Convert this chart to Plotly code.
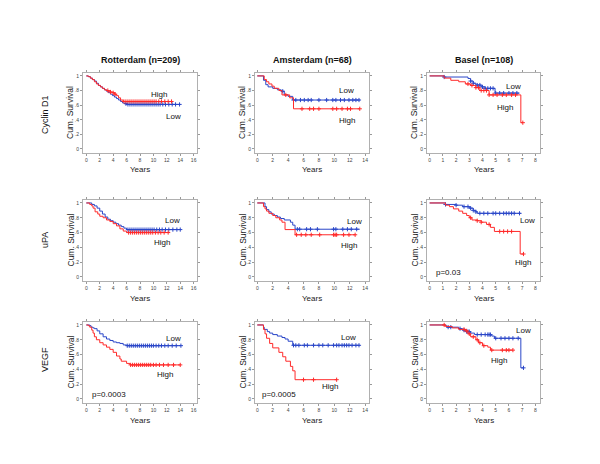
import plotly.graph_objects as go

# ---------------- data ----------------
RED = "#ff2a2a"
BLUE = "#2a46c8"

# Row labels / column titles
col_titles = ["Rotterdam (n=209)", "Amsterdam (n=68)", "Basel (n=108)"]
row_labels = ["Cyclin D1", "uPA", "VEGF"]
y_tickvals = [0, 0.2, 0.4, 0.6, 0.8, 1.0]
y_ticktext = ["0", ".2", ".4", ".6", ".8", "1"]
x_ticks_rot = [0, 2, 4, 6, 8, 10, 12, 14, 16]
x_ticks_ams = [0, 2, 4, 6, 8, 10, 12, 14]
x_ticks_bas = [0, 1, 2, 3, 4, 5, 6, 7, 8]

# --- Cyclin D1, Rotterdam
rot_cyc_low_t = [0, .3, .6, .9, 1.2, 1.5, 1.8, 2.1, 2.4, 2.7, 3.0, 3.3, 3.6, 3.9, 4.2, 4.5, 4.8, 5.1, 5.4, 5.7, 6.0, 14.0]
rot_cyc_low_s = [1, .99, .97, .95, .93, .90, .87, .85, .83, .81, .79, .77, .75, .73, .71, .69, .67, .65, .63, .62, .61, .61]
rot_cyc_low_c = [5.9, 6.2, 6.5, 6.8, 7.1, 7.4, 7.7, 8.0, 8.3, 8.6, 8.9, 9.2, 9.5, 9.8, 10.1, 10.4, 10.7, 11.0, 11.4, 11.8, 12.3, 12.8, 13.3, 13.9]
rot_cyc_high_t = [0, .3, .6, .9, 1.2, 1.5, 1.8, 2.1, 2.4, 2.7, 3.0, 3.3, 3.6, 3.9, 4.2, 4.5, 4.8, 5.1, 5.5, 12.8]
rot_cyc_high_s = [1, .99, .97, .95, .92, .89, .87, .85, .83, .81, .80, .79, .78, .77, .75, .73, .70, .67, .65, .65]
rot_cyc_high_c = [3.2, 3.6, 4.0, 4.3, 5.6, 5.9, 6.2, 6.5, 6.8, 7.1, 7.4, 7.7, 8.0, 8.3, 8.6, 8.9, 9.2, 9.5, 9.8, 10.1, 10.4, 10.8, 11.2, 11.7, 12.2, 12.7]

# --- Cyclin D1, Amsterdam
ams_cyc_low_t = [0, .8, 1.1, 1.4, 2.0, 2.6, 3.1, 3.5, 4.0, 4.6, 13.3]
ams_cyc_low_s = [1, .94, .88, .85, .83, .81, .79, .74, .72, .67, .67]
ams_cyc_low_c = [3.3, 4.7, 5.0, 5.6, 6.1, 6.6, 7.0, 8.0, 9.0, 9.8, 10.2, 10.8, 11.3, 11.9, 12.4, 12.8, 13.2]
ams_cyc_high_t = [0, .9, 1.2, 1.5, 1.9, 2.2, 2.8, 3.2, 4.2, 4.7, 13.3]
ams_cyc_high_s = [1, .95, .92, .89, .86, .83, .80, .74, .70, .55, .55]
ams_cyc_high_c = [3.7, 5.8, 6.8, 7.3, 8.0, 9.8, 10.3, 11.0, 11.7, 12.1, 13.3]

# --- Cyclin D1, Basel
bas_cyc_low_t = [0, 1.1, 2.9, 3.1, 3.3, 3.5, 3.9, 4.2, 4.95, 6.8]
bas_cyc_low_s = [1, .985, .965, .93, .90, .875, .85, .83, .765, .765]
bas_cyc_low_c = [1.1, 3.1, 3.3, 3.6, 3.8, 4.0, 4.2, 4.4, 4.6, 4.8, 5.0, 5.3, 5.6, 6.0, 6.3, 6.6]
bas_cyc_high_t = [0, 1.1, 1.6, 2.2, 2.7, 3.1, 3.5, 3.8, 4.5, 6.9, 7.05]
bas_cyc_high_s = [1, .97, .94, .92, .89, .87, .84, .80, .74, .36, .36]
bas_cyc_high_c = [2.9, 3.2, 3.5, 3.7, 3.9, 4.1, 4.3, 4.5, 4.8, 5.1, 5.5, 5.8, 6.2, 6.5, 7.05]

# --- uPA, Rotterdam
rot_upa_low_t = [0, .8, 1.2, 1.6, 2.0, 2.4, 2.8, 3.2, 3.6, 4.0, 4.4, 4.8, 5.2, 5.6, 6.0, 14.0]
rot_upa_low_s = [1, .98, .96, .93, .89, .85, .81, .78, .76, .74, .72, .70, .68, .66, .64, .64]
rot_upa_low_c = [6.2, 6.5, 6.8, 7.1, 7.4, 7.7, 8.0, 8.3, 8.6, 8.9, 9.2, 9.5, 9.8, 10.1, 10.5, 10.9, 11.3, 11.8, 12.3, 12.9, 13.5, 14.0]
rot_upa_high_t = [0, .5, .8, 1.0, 1.3, 1.7, 2.0, 2.5, 3.0, 3.5, 4.0, 4.5, 5.0, 5.5, 6.0, 12.2]
rot_upa_high_s = [1, .98, .96, .93, .88, .85, .82, .80, .77, .75, .72, .69, .65, .62, .60, .60]
rot_upa_high_c = [6.3, 6.6, 6.9, 7.2, 7.5, 7.8, 8.1, 8.4, 8.7, 9.0, 9.3, 9.6, 9.9, 10.3, 10.7, 11.1, 11.6, 12.2]

# --- uPA, Amsterdam
ams_upa_low_t = [0, 1.0, 1.2, 1.5, 1.8, 2.2, 2.6, 3.0, 3.5, 4.3, 4.6, 4.9, 13.3]
ams_upa_low_s = [1, .95, .91, .88, .85, .83, .81, .79, .77, .74, .70, .645, .645]
ams_upa_low_c = [5.2, 5.5, 6.4, 6.9, 7.8, 9.9, 10.2, 11.1, 11.7, 12.2, 12.9]
ams_upa_high_t = [0, .8, 1.0, 1.2, 1.5, 2.0, 2.4, 2.9, 3.2, 3.6, 4.9, 12.7]
ams_upa_high_s = [1, .95, .92, .89, .86, .83, .80, .77, .74, .64, .57, .57]
ams_upa_high_c = [5.1, 5.7, 6.3, 7.0, 8.1, 9.9, 10.1, 10.3, 11.2, 11.9, 12.7]

# --- uPA, Basel
bas_upa_low_t = [0, 1.2, 2.0, 2.5, 3.0, 3.3, 3.5, 3.6, 6.9]
bas_upa_low_s = [1, .98, .97, .95, .93, .90, .88, .86, .86]
bas_upa_low_c = [1.2, 2.0, 2.6, 2.9, 3.1, 3.3, 3.5, 3.8, 4.1, 4.4, 4.8, 5.0, 5.3, 5.6, 5.8, 6.0, 6.2, 6.4, 6.8]
bas_upa_high_t = [0, 1.2, 1.5, 1.8, 2.2, 2.5, 2.8, 3.0, 3.2, 3.6, 3.9, 4.3, 4.6, 4.9, 6.85, 7.1]
bas_upa_high_s = [1, .97, .95, .92, .89, .86, .83, .80, .77, .76, .74, .71, .67, .615, .31, .31]
bas_upa_high_c = [3.1, 3.6, 3.9, 4.5, 5.3, 5.6, 5.9, 6.2, 7.1]

# --- VEGF, Rotterdam
rot_veg_low_t = [0, .5, .7, 1.0, 1.2, 1.6, 2.0, 2.5, 3.0, 3.5, 4.0, 4.5, 5.0, 5.5, 6.0, 14.1]
rot_veg_low_s = [1, .99, .97, .96, .95, .92, .88, .84, .81, .79, .77, .76, .75, .73, .72, .72]
rot_veg_low_c = [6.1, 6.4, 6.7, 7.0, 7.3, 7.6, 7.9, 8.2, 8.5, 8.8, 9.1, 9.4, 9.7, 10.0, 10.4, 10.8, 11.2, 11.7, 12.2, 12.8, 13.4, 14.1]
rot_veg_high_t = [0, .3, .5, .8, 1.0, 1.2, 1.5, 2.0, 2.5, 3.0, 3.5, 4.0, 4.5, 5.0, 5.2, 6.0, 6.5, 14.0]
rot_veg_high_s = [1, .99, .97, .93, .89, .84, .80, .76, .73, .70, .67, .63, .58, .54, .51, .48, .46, .46]
rot_veg_high_c = [6.6, 6.9, 7.2, 7.5, 7.8, 8.1, 8.4, 8.7, 9.0, 9.3, 9.6, 10.0, 10.4, 10.9, 11.5, 12.2, 13.0, 14.0]

# --- VEGF, Amsterdam
ams_veg_low_t = [0, .8, .9, 1.3, 1.6, 2.0, 2.6, 3.2, 3.6, 4.0, 4.6, 13.3]
ams_veg_low_s = [1, .97, .94, .91, .89, .87, .85, .83, .81, .78, .725, .725]
ams_veg_low_c = [4.7, 5.0, 5.4, 6.1, 6.5, 7.3, 8.0, 8.5, 9.2, 9.9, 10.3, 10.6, 11.0, 11.3, 11.6, 11.9, 12.3, 12.8, 13.2]
ams_veg_high_t = [0, .8, 1.0, 1.2, 1.6, 2.0, 2.8, 3.3, 3.7, 4.3, 4.6, 4.9, 10.3]
ams_veg_high_s = [1, .94, .88, .82, .75, .69, .63, .57, .51, .44, .38, .26, .26]
ams_veg_high_c = [6.0, 7.3, 10.3]

# --- VEGF, Basel
bas_veg_low_t = [0, 1.2, 1.3, 2.2, 2.5, 2.8, 3.1, 3.4, 4.7, 4.9, 6.9, 7.1]
bas_veg_low_s = [1, .99, .97, .95, .93, .91, .89, .87, .85, .82, .42, .42]
bas_veg_low_c = [1.4, 1.6, 2.3, 2.6, 2.8, 2.9, 3.0, 3.6, 3.9, 4.2, 4.4, 4.5, 4.6, 5.0, 5.4, 5.7, 6.0, 6.3, 6.7, 7.1]
bas_veg_high_t = [0, 1.2, 1.7, 2.2, 2.7, 2.9, 3.1, 3.5, 3.7, 4.0, 4.4, 4.6, 6.3]
bas_veg_high_s = [1, .98, .96, .94, .92, .88, .84, .80, .76, .72, .70, .66, .66]
bas_veg_high_c = [1.1, 2.6, 2.8, 3.0, 3.3, 3.6, 3.8, 4.1, 4.7, 5.5, 5.8, 6.0, 6.3]

# labels inside panels: (text, x, y) in data units
lab_rot_cyc = [("High", 10.9, .75), ("Low", 13.0, .445)]
lab_ams_cyc = [("Low", 11.6, .80), ("High", 11.6, .39)]
lab_bas_cyc = [("Low", 6.36, .855), ("High", 5.7, .57)]
lab_rot_upa = [("Low", 12.8, .76), ("High", 11.3, .47)]
lab_ams_upa = [("Low", 12.6, .75), ("High", 11.9, .43)]
lab_bas_upa = [("Low", 7.4, .76), ("High", 7.1, .20), ("p=0.03", 1.45, .06)]
lab_rot_veg = [("Low", 13.0, .82), ("High", 11.7, .33), ("p=0.0003", 3.4, .055)]
lab_ams_veg = [("Low", 11.9, .83), ("High", 9.4, .17), ("p=0.0005", 2.85, .055)]
lab_bas_veg = [("Low", 7.1, .92), ("High", 5.25, .52)]

# ---------------- layout geometry ----------------
OFF = 8                      # page body margin of the browser
W, H = 600 - 2 * OFF, 464 - 2 * OFF
col_px = [(83, 197), (255, 369), (427, 540)]   # window pixels
row_px = [(73, 153), (200, 281), (322, 403)]
x_ranges = [[-0.5, 16.5], [-0.3, 14.5], [-0.2, 8.35]]
x_ticks = [x_ticks_rot, x_ticks_ams, x_ticks_bas]
y_range = [-0.055, 1.04]


def px_x(x):
    return (x - OFF) / W


def px_y(y):
    return 1 - (y - OFF) / H


panels = [
    [(rot_cyc_low_t, rot_cyc_low_s, rot_cyc_low_c, rot_cyc_high_t, rot_cyc_high_s, rot_cyc_high_c, lab_rot_cyc),
     (ams_cyc_low_t, ams_cyc_low_s, ams_cyc_low_c, ams_cyc_high_t, ams_cyc_high_s, ams_cyc_high_c, lab_ams_cyc),
     (bas_cyc_low_t, bas_cyc_low_s, bas_cyc_low_c, bas_cyc_high_t, bas_cyc_high_s, bas_cyc_high_c, lab_bas_cyc)],
    [(rot_upa_low_t, rot_upa_low_s, rot_upa_low_c, rot_upa_high_t, rot_upa_high_s, rot_upa_high_c, lab_rot_upa),
     (ams_upa_low_t, ams_upa_low_s, ams_upa_low_c, ams_upa_high_t, ams_upa_high_s, ams_upa_high_c, lab_ams_upa),
     (bas_upa_low_t, bas_upa_low_s, bas_upa_low_c, bas_upa_high_t, bas_upa_high_s, bas_upa_high_c, lab_bas_upa)],
    [(rot_veg_low_t, rot_veg_low_s, rot_veg_low_c, rot_veg_high_t, rot_veg_high_s, rot_veg_high_c, lab_rot_veg),
     (ams_veg_low_t, ams_veg_low_s, ams_veg_low_c, ams_veg_high_t, ams_veg_high_s, ams_veg_high_c, lab_ams_veg),
     (bas_veg_low_t, bas_veg_low_s, bas_veg_low_c, bas_veg_high_t, bas_veg_high_s, bas_veg_high_c, lab_bas_veg)],
]


def step_at(ts, ss, t):
    val = ss[0]
    for ti, si in zip(ts, ss):
        if ti <= t:
            val = si
    return val


FONT = "Liberation Sans, Arial, sans-serif"
fig = go.Figure()
layout = dict(width=W, height=H, margin=dict(l=0, r=0, t=0, b=0),
              paper_bgcolor="white", plot_bgcolor="white", showlegend=False,
              font=dict(family=FONT, color="#222"))
annotations = []

k = 0
for r in range(3):
    for c in range(3):
        k += 1
        xa = "x" if k == 1 else f"x{k}"
        ya = "y" if k == 1 else f"y{k}"
        lt, ls, lc, ht, hs, hc, labs = panels[r][c]
        for ts, ss, cs, col in [(lt, ls, lc, BLUE), (ht, hs, hc, RED)]:
            fig.add_trace(go.Scatter(x=ts, y=ss, mode="lines", line=dict(color=col, width=1, shape="hv"),
                                     xaxis=xa, yaxis=ya, hoverinfo="skip"))
            fig.add_trace(go.Scatter(x=cs, y=[step_at(ts, ss, t) for t in cs], mode="markers",
                                     marker=dict(symbol="cross-thin", size=3, line=dict(color=col, width=1)),
                                     xaxis=xa, yaxis=ya, hoverinfo="skip"))
        x0, x1 = col_px[c]
        y0, y1 = row_px[r]
        axcommon = dict(showgrid=False, zeroline=False, showline=True, linecolor="#b0b0b0", linewidth=1,
                        mirror="ticks", ticks="outside", ticklen=2, tickcolor="#999", tickwidth=1,
                        tickfont=dict(size=5, color="#444", family=FONT), fixedrange=True)
        layout["xaxis" if k == 1 else f"xaxis{k}"] = dict(
            domain=[px_x(x0), px_x(x1)], range=x_ranges[c], anchor=ya,
            tickvals=x_ticks[c], ticktext=[str(v) for v in x_ticks[c]], **axcommon)
        layout["yaxis" if k == 1 else f"yaxis{k}"] = dict(
            domain=[px_y(y1), px_y(y0)], range=y_range, anchor=xa,
            tickvals=y_tickvals, ticktext=y_ticktext, **axcommon)
        for txt, lx, ly in labs:
            annotations.append(dict(x=lx, y=ly, xref=xa, yref=ya, text=txt, showarrow=False,
                                    xanchor="center", yanchor="middle",
                                    font=dict(size=8, color="#111", family=FONT)))
        # axis titles
        cx = (x0 + x1) / 2
        cy = (y0 + y1) / 2
        annotations.append(dict(x=px_x(x0 - 13), y=px_y(cy), xref="paper", yref="paper",
                                text="Cum. Survival", textangle=-90, showarrow=False,
                                xanchor="center", yanchor="middle",
                                font=dict(size=8.5, color="#222", family=FONT)))
        annotations.append(dict(x=px_x(cx), y=px_y(y1 + 17), xref="paper", yref="paper",
                                text="Years", showarrow=False,
                                xanchor="center", yanchor="middle",
                                font=dict(size=8, color="#222", family=FONT)))

title_y = 60
for c in range(3):
    cx = (col_px[c][0] + col_px[c][1]) / 2
    annotations.append(dict(x=px_x(cx), y=px_y(title_y), xref="paper", yref="paper",
                            text=f"<b>{col_titles[c]}</b>", showarrow=False,
                            xanchor="center", yanchor="middle",
                            font=dict(size=9, color="#111", family=FONT)))
row_label_y = [115, 240, 360]
for r in range(3):
    annotations.append(dict(x=px_x(45), y=px_y(row_label_y[r]), xref="paper", yref="paper",
                            text=row_labels[r], textangle=-90, showarrow=False,
                            xanchor="center", yanchor="middle",
                            font=dict(size=9, color="#111", family=FONT)))

layout["annotations"] = annotations
fig.update_layout(**layout)
fig.write_html("out.html")
